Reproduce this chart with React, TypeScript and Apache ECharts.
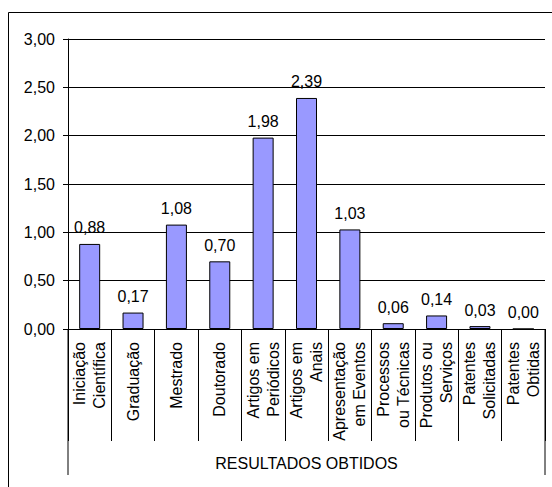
import React, { useEffect, useRef } from "react";
import * as echarts from "echarts";

const categories = [
  "Iniciação\nCientífica",
  "Graduação",
  "Mestrado",
  "Doutorado",
  "Artigos em\nPeriódicos",
  "Artigos em\nAnais",
  "Apresentação\nem Eventos",
  "Processos\nou Técnicas",
  "Produtos ou\nServiços",
  "Patentes\nSolicitadas",
  "Patentes\nObtidas",
];
const values = [0.88, 0.17, 1.08, 0.7, 1.98, 2.39, 1.03, 0.06, 0.14, 0.03, 0.0];
const axisTitle = "RESULTADOS OBTIDOS";

const FONT = "Liberation Sans";
const FS = 16;
const fmt = (v: number) => v.toFixed(2).replace(".", ",");

export default function App() {
  const ref = useRef<HTMLDivElement>(null);
  useEffect(() => {
    if (!ref.current) return;
    const chart = echarts.init(ref.current, undefined, { renderer: "svg" });
    const gridLeft = 68;
    const gridRight = 7;
    const gridTop = 39;
    const gridBottom = 158;
    const W = 552;
    const H = 487;
    const axisY = H - gridBottom;
    const rightX = W - gridRight;
    chart.setOption({
      animation: false,
      textStyle: { fontFamily: FONT, fontSize: FS },
      grid: { left: gridLeft, right: gridRight, top: gridTop, bottom: gridBottom, containLabel: false },
      xAxis: {
        type: "category",
        data: categories,
        boundaryGap: true,
        axisLine: { show: true, lineStyle: { color: "#000", width: 1 } },
        axisTick: { show: true, length: 112, inside: false, lineStyle: { color: "#000" } },
        axisLabel: {
          show: true,
          interval: 0,
          rotate: 90,
          margin: 13,
          color: "#000",
          fontSize: FS,
          lineHeight: 20,
          fontFamily: FONT,
          hideOverlap: false,
        },
        splitLine: { show: false },
      },
      yAxis: {
        type: "value",
        min: 0,
        max: 3,
        interval: 0.5,
        axisLine: { show: true, lineStyle: { color: "#000", width: 1 } },
        axisTick: { show: true, length: 5, lineStyle: { color: "#000" } },
        axisLabel: {
          margin: 13,
          color: "#000",
          fontSize: FS,
          fontFamily: FONT,
          formatter: (v: number) => fmt(v),
        },
        splitLine: { show: true, lineStyle: { color: "#000", width: 1 } },
      },
      series: [
        {
          type: "bar",
          data: values,
          barWidth: 21,
          itemStyle: { color: "#9999FF", borderColor: "#000", borderWidth: 1 },
          label: {
            show: true,
            position: "top",
            distance: 8,
            color: "#000",
            fontSize: FS,
            fontFamily: FONT,
            formatter: (p: any) => fmt(p.value),
          },
        },
      ],
      graphic: [
        {
          type: "rect",
          silent: true,
          z: -1,
          shape: { x: 8.5, y: 12.5, width: 800, height: 800 },
          style: { fill: "none", stroke: "#000", lineWidth: 1 },
        },
        {
          type: "line",
          silent: true,
          shape: { x1: gridLeft, y1: axisY, x2: gridLeft, y2: 475 },
          style: { stroke: "#000", lineWidth: 1 },
        },
        {
          type: "line",
          silent: true,
          shape: { x1: rightX, y1: axisY, x2: rightX, y2: 475 },
          style: { stroke: "#000", lineWidth: 1 },
        },
        {
          type: "text",
          silent: true,
          x: (gridLeft + rightX) / 2,
          y: 463,
          style: {
            text: axisTitle,
            fill: "#000",
            fontSize: FS,
            fontFamily: FONT,
            textAlign: "center",
            textVerticalAlign: "middle",
          },
        },
      ],
    });
    return () => chart.dispose();
  }, []);
  return (
    <div
      ref={ref}
      style={{ position: "fixed", left: 0, top: 0, width: 552, height: 487, background: "#fff" }}
    />
  );
}
